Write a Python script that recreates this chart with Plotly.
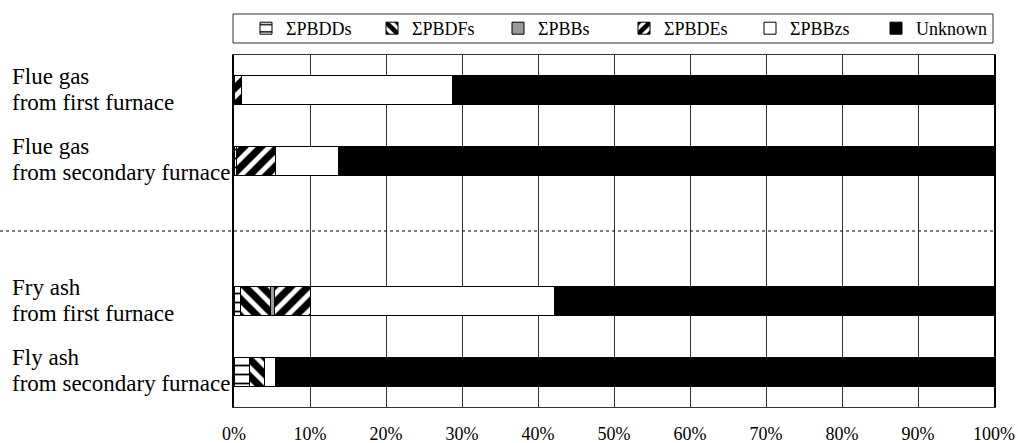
import plotly.graph_objects as go

# Sample groups (flue gas / ash), each with two sampling points
groups = [
    [["Flue gas", "from first furnace"], ["Flue gas", "from secondary furnace"]],
    [["Fry ash", "from first furnace"], ["Fly ash", "from secondary furnace"]],
]

series_names = ["ΣPBDDs", "ΣPBDFs", "ΣPBBs", "ΣPBDEs", "ΣPBBzs", "Unknown"]

# Share of each fraction (%) per sample, same order as the labels above
pbdds = [0.0, 0.3, 0.9, 2.0]
pbdfs = [0.0, 0.0, 3.9, 2.0]
pbbs = [0.0, 0.0, 0.5, 0.0]
pbdes = [1.0, 5.2, 4.8, 0.0]
pbbzs = [27.7, 8.3, 32.1, 1.4]
unknown = [71.3, 86.2, 57.8, 94.65]

x_ticks = list(range(0, 101, 10))
x_tick_labels = [f"{v}%" for v in x_ticks]

# Row positions: one empty row between the two groups
labels, rows = [], []
pos = 0
for gi, grp in enumerate(groups):
    for lab in grp:
        labels.append(lab)
        rows.append(pos)
        pos += 1
    if gi < len(groups) - 1:
        gap_row = pos
        pos += 1
n_rows = pos

def hatch(shape, size, solidity):
    return dict(shape=shape, fgcolor="black", bgcolor="white", fgopacity=1,
                size=size, solidity=solidity)

styles = [
    dict(color="white", pattern=hatch("-", 9, 0.2)),
    dict(color="white", pattern=hatch("\\", 12, 0.6)),
    dict(color="#999999"),
    dict(color="white", pattern=hatch("/", 12, 0.6)),
    dict(color="white"),
    dict(color="black"),
]
values = [pbdds, pbdfs, pbbs, pbdes, pbbzs, unknown]

FONT = "Liberation Serif, Times New Roman, serif"
ML, MR, MT, MB = 234, 24, 55, 36
W, H = 1018, 443
plot_w = W - ML - MR
plot_h = H - MT - MB

fig = go.Figure()
for name, vals, st in zip(series_names, values, styles):
    marker = dict(st)
    marker["line"] = dict(color="black", width=1)
    fig.add_trace(go.Bar(
        name=name, x=vals, y=rows, orientation="h",
        width=0.41, marker=marker,
    ))

# Row labels, left-aligned in the margin
ann = []
for lab, r in zip(labels, rows):
    for k, line in enumerate(lab):
        ann.append(dict(
            text=line, xref="paper", yref="y", x=-(ML - 10) / plot_w, y=r,
            xanchor="left", yanchor="middle", showarrow=False,
            yshift=14 - 26 * k,
            font=dict(family=FONT, size=23, color="black"),
        ))

# Legend frame (pixel rows 14..43 above the plot)
box_top, box_bot = 14, 43
legend_frame = dict(
    type="rect", xref="paper", yref="paper",
    x0=-1 / plot_w, x1=1 - 1 / plot_w,
    y0=1 + (MT - box_bot) / plot_h, y1=1 + (MT - box_top) / plot_h,
    line=dict(color="#333", width=1), fillcolor="rgba(0,0,0,0)",
)
separator = dict(
    type="line", xref="paper", yref="y",
    x0=-ML / plot_w, x1=1, y0=gap_row, y1=gap_row,
    line=dict(color="black", width=1, dash="3px,3px"),
)

fig.update_layout(
    width=W, height=H,
    margin=dict(l=ML, r=MR, t=MT, b=MB, autoexpand=False),
    paper_bgcolor="white", plot_bgcolor="white",
    barmode="stack",
    font=dict(family=FONT, color="black"),
    showlegend=True,
    legend=dict(
        orientation="h", x=12 / plot_w, xanchor="left",
        y=1 + (MT - (box_top + box_bot) / 2) / plot_h, yanchor="middle",
        borderwidth=0, bgcolor="rgba(0,0,0,0)",
        entrywidth=81, entrywidthmode="pixels",
        font=dict(family=FONT, size=18, color="black"),
        traceorder="normal",
    ),
    xaxis=dict(
        range=[0, 100], tickvals=x_ticks, ticktext=x_tick_labels,
        showgrid=True, gridcolor="#333", gridwidth=1,
        showline=True, linecolor="#333", linewidth=1, mirror=True,
        ticks="outside", ticklen=10, tickcolor="rgba(0,0,0,0)",
        tickfont=dict(family=FONT, size=18, color="black"),
        zeroline=False, fixedrange=True,
    ),
    yaxis=dict(
        range=[n_rows - 0.5, -0.5], showticklabels=False, showgrid=False,
        showline=True, linecolor="black", linewidth=2, mirror=True,
        zeroline=False, ticks="", fixedrange=True,
    ),
    shapes=[legend_frame, separator],
    annotations=ann,
)

fig.write_html("out.html")
